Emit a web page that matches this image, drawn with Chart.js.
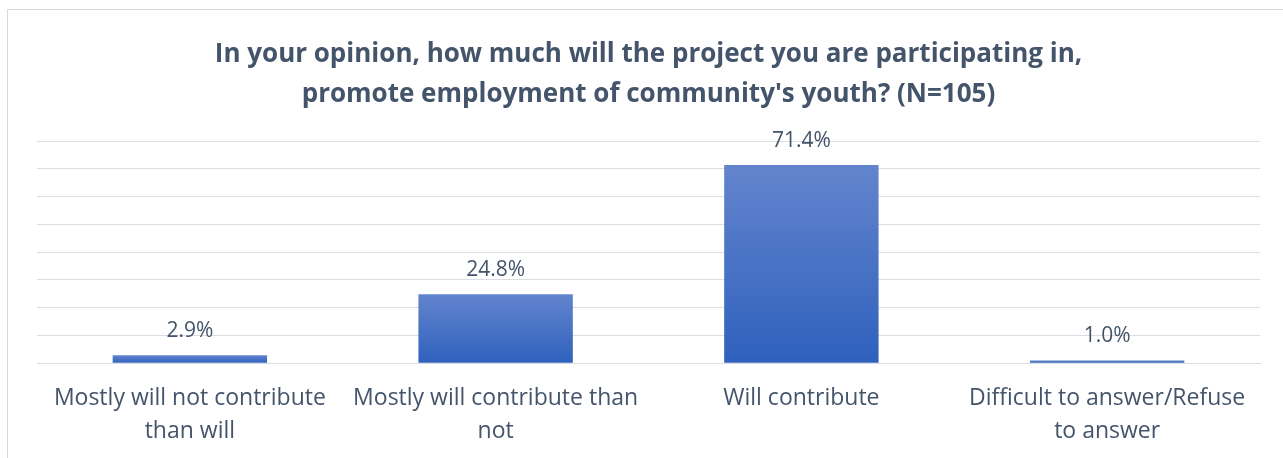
<!DOCTYPE html>
<html>
<head>
<meta charset="utf-8">
<script src="https://cdn.jsdelivr.net/npm/chart.js@4.4.1/dist/chart.umd.min.js"></script>
<style>
    html, body { margin: 0; padding: 0; background: #fff; overflow: hidden; }
    .frame { position: absolute; left: 7px; top: 9px; width: 1276px; height: 449px;
             border-left: 1px solid #D9D9D9; border-top: 1px solid #D9D9D9; }
    .chart-box { position: absolute; left: 0; top: 0; width: 1283px; height: 463px; }
</style>
</head>
<body>
<div class="frame"></div>
<div class="chart-box">
    <canvas id="chart-youth"></canvas>
</div>
<script>
    // answer categories (x-axis labels, split into lines)
    const categories = [
        ['Mostly will not contribute', 'than will'],
        ['Mostly will contribute than', 'not'],
        ['Will contribute'],
        ['Difficult to answer/Refuse', 'to answer']
    ];
    // share of respondents, %
    const shares = [2.9, 24.8, 71.4, 1.0];
    const titleLines = [
        'In your opinion, how much will the project you are participating in,',
        "promote employment of community's youth? (N=105)"
    ];

    const textColor = '#44546A';
    const gridColor = '#DADEE4';
    const fontFamily = '"Open Sans", sans-serif';

    // vertical gradient per bar, light at the top, darker at the base
    function barFill(context) {
        const chart = context.chart;
        if (!chart.chartArea || !chart.scales.y) return '#4472C4';
        const y = chart.scales.y;
        const top = y.getPixelForValue(shares[context.dataIndex]);
        const base = y.getPixelForValue(0);
        const g = chart.ctx.createLinearGradient(0, Math.min(top, base - 1), 0, base);
        g.addColorStop(0, '#6384CD');
        g.addColorStop(1, '#2F61BD');
        return g;
    }

    // value labels above each bar
    const valueLabels = {
        id: 'valueLabels',
        afterDatasetsDraw(chart) {
            const ctx = chart.ctx;
            const meta = chart.getDatasetMeta(0);
            ctx.save();
            ctx.fillStyle = textColor;
            ctx.font = '21px ' + fontFamily;
            ctx.textAlign = 'center';
            ctx.textBaseline = 'middle';
            meta.data.forEach((bar, i) => {
                ctx.fillText(shares[i].toFixed(1) + '%', bar.x, bar.y - 24);
            });
            ctx.restore();
        }
    };

    new Chart(document.getElementById('chart-youth'), {
        type: 'bar',
        data: {
            labels: categories,
            datasets: [{
                data: shares,
                backgroundColor: barFill,
                categoryPercentage: 1.0,
                barPercentage: 0.505
            }]
        },
        options: {
            responsive: true,
            maintainAspectRatio: false,
            animation: false,
            layout: { padding: { left: 37, right: 23, top: 0, bottom: 4 } },
            plugins: {
                legend: { display: false },
                tooltip: { enabled: false },
                title: {
                    display: true,
                    text: titleLines,
                    color: textColor,
                    font: { family: fontFamily, size: 26, weight: 'bold', lineHeight: 1.54 },
                    padding: { top: 35, bottom: 26 }
                }
            },
            scales: {
                x: {
                    grid: { display: false },
                    border: { display: true, color: gridColor, width: 1 },
                    ticks: {
                        color: textColor,
                        font: { family: fontFamily, size: 23, lineHeight: 1.43 },
                        padding: 11,
                        maxRotation: 0,
                        autoSkip: false
                    }
                },
                y: {
                    min: 0,
                    max: 80,
                    ticks: { display: false, stepSize: 10 },
                    grid: { color: gridColor, lineWidth: 1, drawTicks: false },
                    border: { display: false }
                }
            }
        },
        plugins: [valueLabels]
    });
</script>
</body>
</html>
